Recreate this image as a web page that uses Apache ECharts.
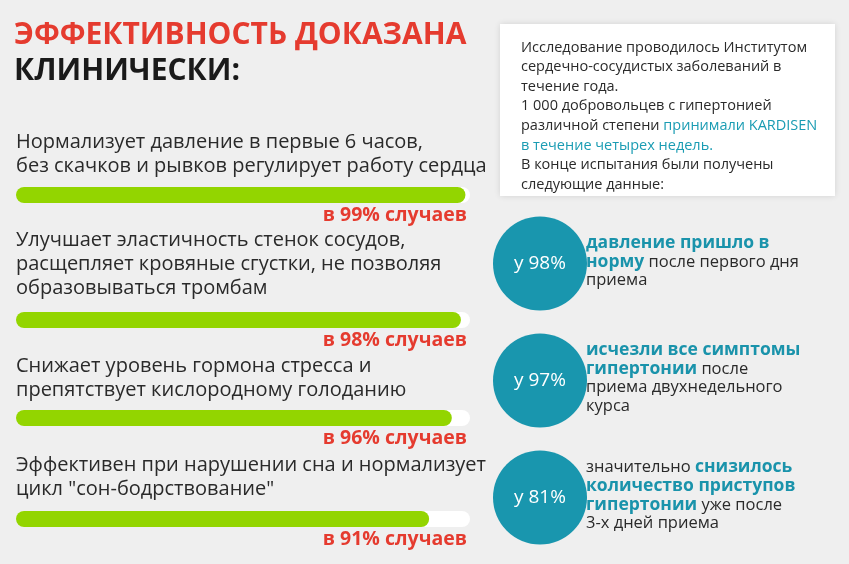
<!DOCTYPE html><html><head><meta charset="utf-8">
<script src="https://cdn.jsdelivr.net/npm/echarts@6/dist/echarts.min.js"></script>
<style>html,body{margin:0;padding:0;background:#efefef}#c{width:849px;height:564px}</style></head><body><div id="c"></div>
<script>
const barValues=[99,98,96,91];
const barTexts=[["Нормализует давление в первые 6 часов,","без скачков и рывков регулирует работу сердца"],["Улучшает эластичность стенок сосудов,","расщепляет кровяные сгустки, не позволяя","образовываться тромбам"],["Снижает уровень гормона стресса и","препятствует кислородному голоданию"],["Эффективен при нарушении сна и нормализует","цикл \"сон-бодрствование\""]];
const circleValues=[98,97,81];
const circleTexts=[
 [[["b","давление пришло в"]],[["b","норму"],["n"," после первого дня"]],[["n","приема"]]],
 [[["b","исчезли все симптомы"]],[["b","гипертонии"],["n"," после"]],[["n","приема двухнедельного"]],[["n","курса"]]],
 [[["n","значительно "],["b","снизилось"]],[["b","количество приступов"]],[["b","гипертонии"],["n"," уже после"]],[["n","3-х дней приема"]]]
];
const barY=[195,320,418,519];
const textY=[[145,169],[243,267,291],[369,393],[468,492]];
const ctY=[[245,264,283],[352,371,390,409],[469,488,507,526]];
const F='"Open Sans", sans-serif';
const grids=[],xAxes=[],yAxes=[],series=[],graphic=[];
barValues.forEach((v,i)=>{
 grids.push({left:16,width:454,top:barY[i]-8,height:16});
 xAxes.push({gridIndex:i,type:'value',min:0,max:100,show:false});
 yAxes.push({gridIndex:i,type:'category',data:['a'],show:false});
 series.push({type:'bar',xAxisIndex:i,yAxisIndex:i,data:[v],barWidth:16,showBackground:true,
  backgroundStyle:{color:'#ffffff',borderRadius:8},itemStyle:{color:'#93d500',borderRadius:8},silent:true});
 barTexts[i].forEach((t,j)=>graphic.push({type:'text',left:16,top:textY[i][j]-13,style:{text:t,font:'20px '+F,fill:'#2a2a2a'}}));
 graphic.push({type:'text',right:849-467,top:barY[i]+10,style:{text:'в '+v+'% случаев',font:'bold 19.5px '+F,fill:'#e53b2f'}});
});
grids.push({left:490,width:100,top:205,height:351});
xAxes.push({gridIndex:4,type:'value',min:0,max:2,show:false});
yAxes.push({gridIndex:4,type:'category',inverse:true,data:['1','2','3'],show:false});
series.push({type:'scatter',xAxisIndex:4,yAxisIndex:4,symbolSize:94,itemStyle:{color:'#1996ae',opacity:1},
 data:circleValues.map((v,i)=>({value:[1,i],v})),label:{show:true,position:'inside',formatter:p=>'у '+p.data.v+'%',color:'#fff',fontSize:19,fontFamily:F},silent:true});
circleTexts.forEach((lines,i)=>lines.forEach((segs,j)=>{
 graphic.push({type:'text',left:586,top:ctY[i][j]-11,style:{text:segs.map(s=>'{'+s[0]+'|'+s[1]+'}').join(''),
  rich:{b:{font:'bold 17.5px '+F,fill:'#1a93ab'},n:{font:'16.5px '+F,fill:'#2a2a2a'}}}});
}));
graphic.push({type:'text',left:14,top:20,style:{text:'ЭФФЕКТИВНОСТЬ ДОКАЗАНА',font:'bold 30px '+F,fill:'#e53b2f'}});
graphic.push({type:'text',left:14,top:56,style:{text:'КЛИНИЧЕСКИ:',font:'bold 30px '+F,fill:'#1a1a1a'}});
graphic.push({type:'rect',shape:{x:500,y:24,width:335,height:172},style:{fill:'#ffffff',shadowBlur:6,shadowColor:'rgba(0,0,0,0.12)'},z:-1});
const boxLines=[[['n','Исследование проводилось Институтом']],[['n','сердечно-сосудистых заболеваний в']],[['n','течение года.']],[['n','1 000 добровольцев с гипертонией']],[['n','различной степени '],['t','принимали KARDISEN']],[['t','в течение четырех недель.']],[['n','В конце испытания были получены']],[['n','следующие данные:']]];
boxLines.forEach((segs,j)=>graphic.push({type:'text',left:521,top:40+j*19.6,style:{text:segs.map(s=>'{'+s[0]+'|'+s[1]+'}').join(''),
 rich:{n:{font:'14.5px '+F,fill:'#2a2a2a'},t:{font:'14.5px '+F,fill:'#1a9cb3'}}}}));
const ch=echarts.init(document.getElementById('c'));
ch.setOption({backgroundColor:'#efefef',animation:false,grid:grids,xAxis:xAxes,yAxis:yAxes,series,graphic});
</script></body></html>
